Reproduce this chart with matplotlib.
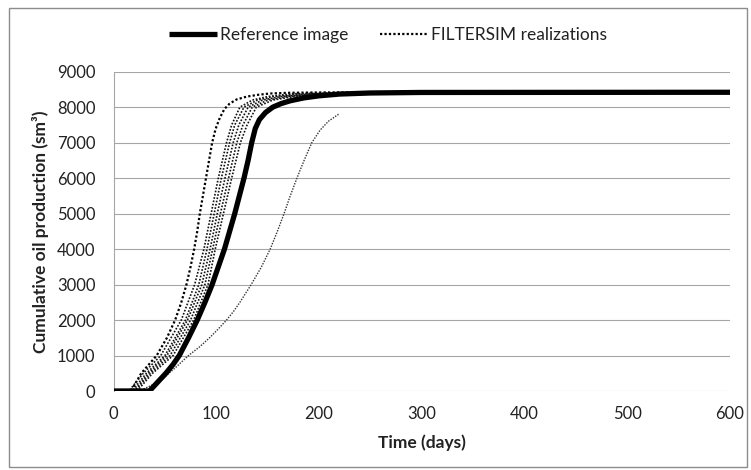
import matplotlib
matplotlib.use("Agg")
import matplotlib.pyplot as plt
from matplotlib.patches import Rectangle

plt.rcParams['font.family'] = ['Lato', 'DejaVu Sans']

# ---- data ----
ref_t = [0, 35, 43, 51, 58, 64, 73, 81.5, 89, 96, 102, 108, 113, 118, 122.5, 127, 131, 134.5,
         138, 142, 148, 155, 163, 172, 185, 200, 220, 250, 300, 600]
ref_v = [0, 0, 250, 500, 750, 1000, 1500, 2000, 2500, 3000, 3500, 4000, 4500, 5000, 5500, 6000, 6500, 7000,
         7400, 7650, 7850, 8000, 8100, 8180, 8260, 8320, 8370, 8400, 8415, 8420]

realA_t = [0, 17, 27, 42, 52, 60, 66, 71, 75, 78.5, 81.5, 84, 87, 90, 93, 96, 99.5, 103.5, 108, 113,
           120, 130, 141, 152, 170, 200, 250, 300]
realA_v = [0, 0, 500, 1000, 1500, 2000, 2500, 3000, 3500, 4000, 4500, 5000, 5500, 6000, 6500, 7000,
           7400, 7700, 7950, 8100, 8220, 8300, 8350, 8385, 8405, 8415, 8420, 8420]

cluster_v = [0, 0, 500, 1000, 2000, 3000, 4000, 5000, 6000, 7000, 7500, 8000, 8200, 8300, 8380, 8420]
real1_t = [0, 15, 29, 46, 66, 79, 88, 95, 102, 110, 115, 123, 135, 150, 175, 300]
real2_t = [0, 18, 32, 50, 70, 83, 91, 98, 105, 113, 118, 127, 140, 156, 185, 300]
real3_t = [0, 20, 34, 52, 72, 86, 94, 101, 108.5, 116.5, 122, 131, 145, 163, 195, 300]
real4_t = [0, 21, 36, 55, 75, 89, 96.5, 104, 112, 120, 126, 135, 150, 170, 205, 300]
real5_t = [0, 23, 38, 58, 78, 92, 99, 107, 115, 123.5, 130, 139, 155, 176, 212, 300]

realL_t = [0, 25, 40, 50, 60, 73, 84, 93.5, 102, 110, 117, 123, 134, 144, 152.5, 159.5, 166, 172,
           178.5, 185.5, 193, 201, 209, 219]
realL_v = [0, 0, 200, 400, 650, 1000, 1250, 1500, 1750, 2000, 2250, 2500, 3000, 3500, 4000, 4500,
           5000, 5500, 6000, 6500, 7000, 7350, 7600, 7800]

x_ticks = [0, 100, 200, 300, 400, 500, 600]
y_ticks = [0, 1000, 2000, 3000, 4000, 5000, 6000, 7000, 8000, 9000]

# ---- figure ----
W, H = 751, 470
fig = plt.figure(figsize=(W / 100, H / 100), dpi=100)
fig.patch.set_facecolor('white')
fig.add_artist(Rectangle((8.5 / W, 1 - 467 / H), (747 - 8.5) / W, (467 - 8) / H,
                         transform=fig.transFigure, fill=False, edgecolor='#8c8c8c', lw=1.0))

x0, x1, y0, y1 = 113.5, 730, 71.7, 391
ax = fig.add_axes([x0 / W, 1 - y1 / H, (x1 - x0) / W, (y1 - y0) / H])

dot = (0, (1, 1))
real_lines = [(realA_t, realA_v, 1.6, 'black')]
for t in (real1_t, real2_t, real3_t, real4_t, real5_t):
    real_lines.append((t, cluster_v, 1.2, '#111111'))
real_lines.append((realL_t, realL_v, 1.0, '#333333'))

for i, (t, v, lw, c) in enumerate(real_lines):
    ax.plot(t, v, color=c, lw=lw, linestyle=dot, zorder=3,
            label='FILTERSIM realizations' if i == 0 else None)

ax.plot(ref_t, ref_v, color='black', lw=3.8, solid_capstyle='butt', zorder=4,
        label='Reference image')

ax.set_xlim(0, 600)
ax.set_ylim(0, 9000)
ax.set_xticks(x_ticks)
ax.set_yticks(y_ticks)
ax.tick_params(length=0, labelsize=12, colors='#222222')
ax.tick_params(axis='x', pad=11)
ax.tick_params(axis='y', pad=13)
ax.grid(axis='y', color='#a6a6a6', lw=0.8)
ax.set_axisbelow(True)
for s in ('top', 'right', 'bottom'):
    ax.spines[s].set_visible(False)
ax.spines['left'].set_color('#a6a6a6')
ax.spines['left'].set_linewidth(0.8)

ax.set_xlabel('Time (days)', fontsize=12.5, fontweight='bold', color='#222222')
ax.xaxis.set_label_coords(0.5, (y1 - 443) / (y1 - y0))
ax.xaxis.label.set_va('center')
ax.set_ylabel('Cumulative oil production (sm³)', fontsize=12.5, fontweight='bold', color='#222222')
ax.yaxis.set_label_coords((41 - x0) / (x1 - x0), 0.5)
ax.yaxis.label.set_va('center')

handles, labels = ax.get_legend_handles_labels()
order = [labels.index('Reference image'), labels.index('FILTERSIM realizations')]
leg = fig.legend([handles[i] for i in order], [labels[i] for i in order],
                 loc='center', bbox_to_anchor=(388 / W, 1 - 35 / H), ncol=2, frameon=False,
                 fontsize=12.5, handlelength=2.75, handletextpad=0.2, columnspacing=1.8)
for txt in leg.get_texts():
    txt.set_color('#222222')

fig.savefig('out.png', dpi=100)
